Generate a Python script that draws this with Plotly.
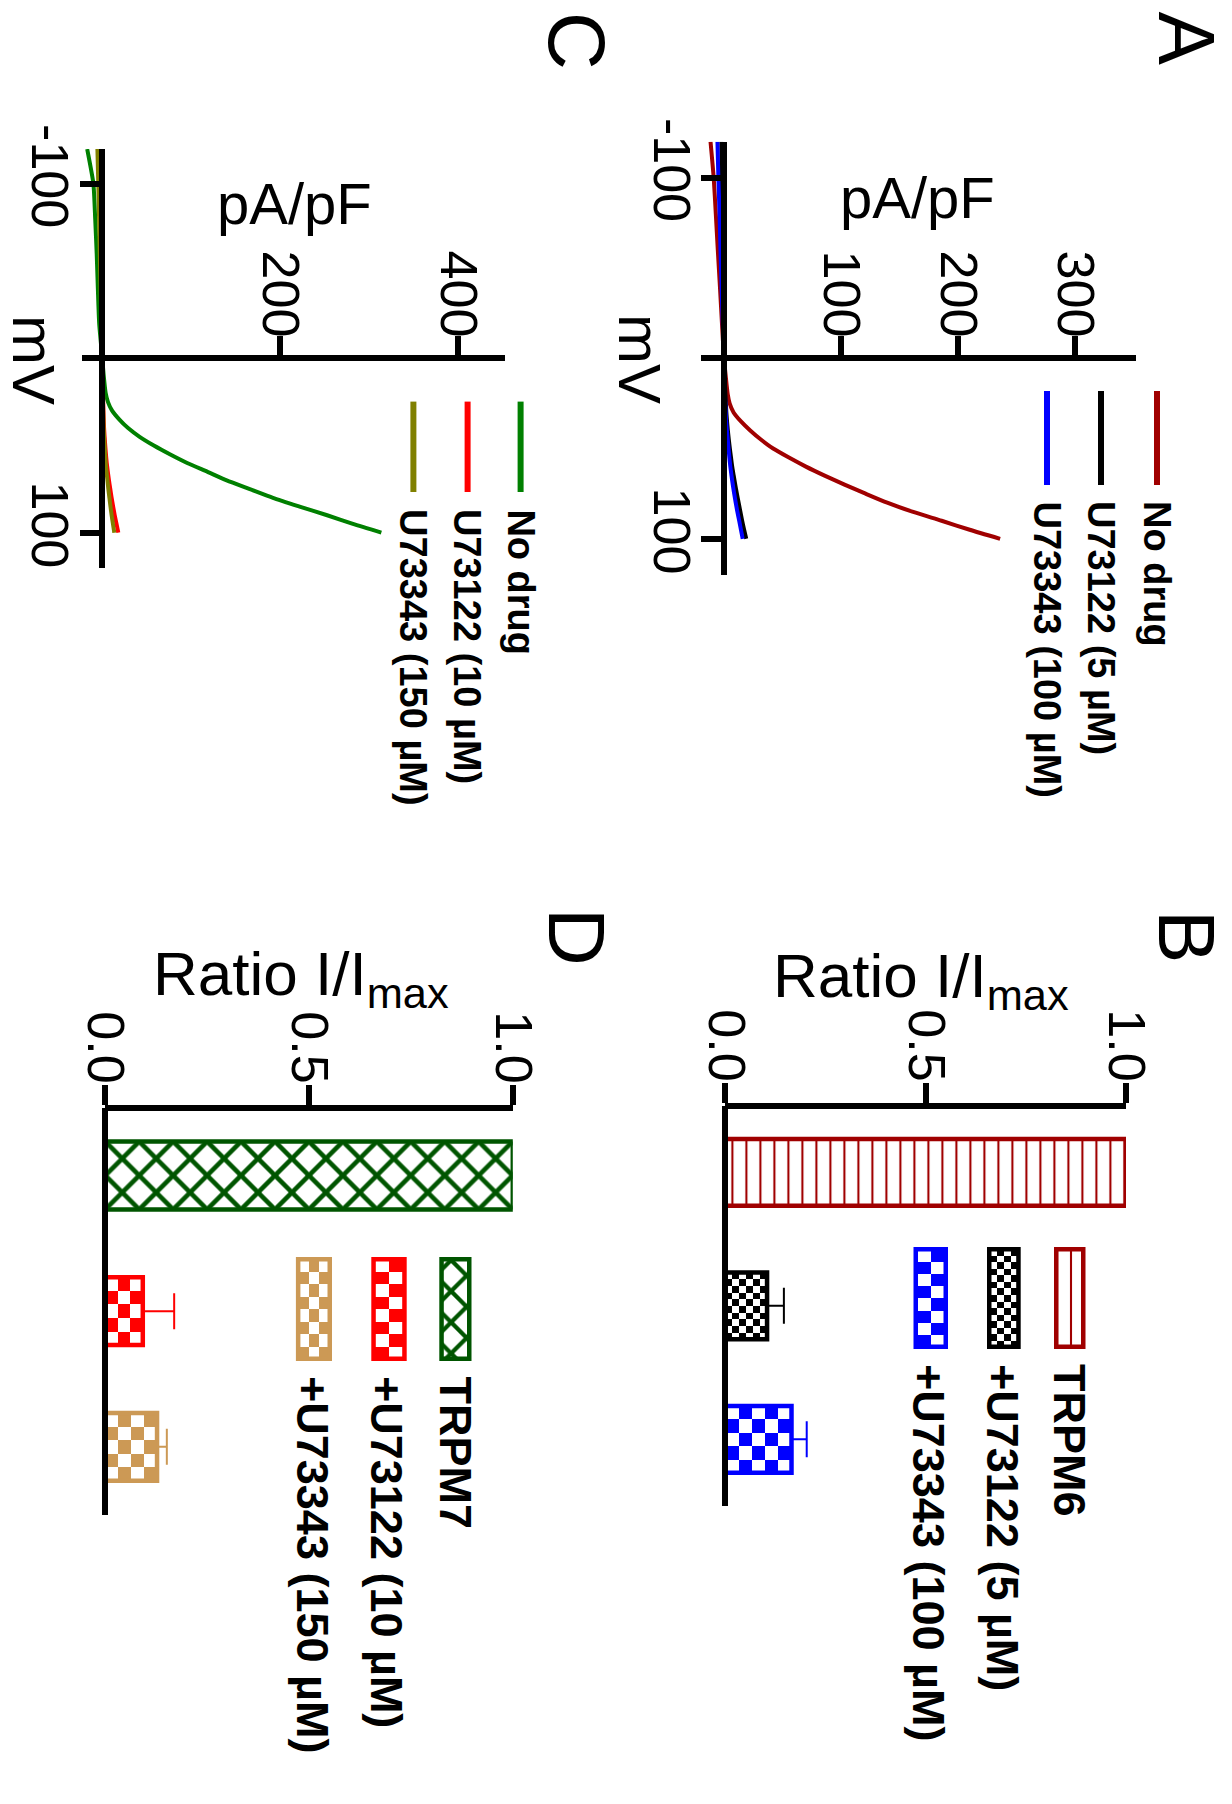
import numpy as np
import plotly.graph_objects as go

W, H = 1232, 1804
FONT = "Liberation Sans, Arial, sans-serif"

# ---------------- data ----------------
# membrane potential of the voltage ramp (mV)
mv = [-120, -100, -80, -60, -40, -20, 0, 10, 20, 25, 30, 35, 40, 45, 50,
      55, 60, 65, 70, 75, 80, 85, 90, 95, 100]

# A: TRPM6 current density (pA/pF)
trpm6_nodrug = [-11.5, -8.8, -7.0, -5.3, -3.5, -1.8, 0, 1.5, 3.2, 4.8, 8.2, 14.5,
                22.4, 31.5, 42, 55.5, 70, 86, 103, 121, 139.5, 161, 186, 210, 236]
trpm6_u73122 = [-2.3, -2.0, -1.6, -1.2, -0.8, -0.4, 0, 0.5, 1.2, 1.6, 2.0, 2.6,
                3.3, 4.1, 5.0, 6.0, 7.0, 8.3, 9.6, 11.0, 12.5, 14.0, 15.5, 17.2, 19.0]
trpm6_u73343 = [-5.6, -4.8, -3.8, -3.0, -2.1, -1.1, 0, 0.4, 0.8, 1.1, 1.4, 1.9,
                2.5, 3.2, 3.9, 4.6, 5.4, 6.4, 7.5, 8.7, 10.0, 11.4, 13.0, 14.5, 16.0]

# C: TRPM7 current density (pA/pF)
trpm7_nodrug = [-17, -10, -8, -6.3, -5, -3.5, 0, 1.6, 3.8, 6.3, 11, 19, 29, 42,
                58, 76, 95.5, 118, 140, 166, 192, 222, 253, 282, 314]
trpm7_u73122 = [-2.0, -1.7, -1.4, -1.0, -0.7, -0.3, 0, 0.3, 0.8, 1.0, 1.3, 1.6,
                2.0, 2.6, 3.3, 4.1, 5.0, 6.2, 7.5, 9.0, 10.5, 12.2, 14.0, 16.0, 18.0]
trpm7_u73343 = [-5.5, -4.5, -3.6, -2.8, -1.9, -1.0, 0, 0.3, 0.6, 0.8, 1.0, 1.3,
                1.5, 2.0, 2.6, 3.2, 3.8, 4.7, 5.8, 6.8, 8.0, 9.2, 10.5, 12.0, 13.5]

iv_names_a = ["No drug", "U73122 (5 µM)", "U73343 (100 µM)"]
iv_names_c = ["No drug", "U73122 (10 µM)", "U73343 (150 µM)"]

# B / D: normalised current I/Imax, mean and SEM
trpm6_groups = ["TRPM6", "+U73122 (5 µM)", "+U73343 (100 µM)"]
trpm6_ratio = [1.0, 0.104, 0.165]
trpm6_sem = [0.0, 0.042, 0.038]

trpm7_groups = ["TRPM7", "+U73122 (10 µM)", "+U73343 (150 µM)"]
trpm7_ratio = [1.0, 0.092, 0.127]
trpm7_sem = [0.0, 0.077, 0.024]

# tick values / labels
ticks_pa_a = [100, 200, 300]
ticks_pa_c = [200, 400]
ticks_mv = [-100, 100]
ticktext_mv = ["-100", "100"]
ticks_ratio = [0.0, 0.5, 1.0]
ticktext_ratio = ["0.0", "0.5", "1.0"]

# ---------------- styling ----------------
DARKRED = "#a00000"
BLUE = "#0000ff"
GREEN_IV = "#008000"
OLIVE = "#808000"
RED = "#ff0000"
GREEN_BAR = "#005500"
TAN = "#cc9955"

AX_LW = 5.5
TICK_FONT = dict(family=FONT, size=52, color="black")


def fx(p):
    return p / W


def fy(p):
    return 1 - p / H


fig = go.Figure()

# ---- I-V panels (rotated: potential runs downward, current to the right) ----
iv_panels = [
    dict(xa="x", ya="y", data=[(trpm6_nodrug, DARKRED), (trpm6_u73122, "black"), (trpm6_u73343, BLUE)]),
    dict(xa="x2", ya="y2", data=[(trpm7_nodrug, GREEN_IV), (trpm7_u73122, RED), (trpm7_u73343, OLIVE)]),
]
for p in iv_panels:
    for vals, col in p["data"]:
        fig.add_trace(go.Scatter(
            x=vals, y=mv, mode="lines",
            line=dict(color=col, width=4, shape="spline", smoothing=0.6),
            xaxis=p["xa"], yaxis=p["ya"], hoverinfo="skip", showlegend=False))


# ---- bar panels ----
def checker(x0, x1, y0, y1, nx, ny, color, xa, ya):
    xe = np.linspace(x0, x1, nx + 1)
    ye = np.linspace(y0, y1, ny + 1)
    z = (np.add.outer(np.arange(ny), np.arange(nx)) % 2).astype(float)
    return go.Heatmap(x=xe, y=ye, z=z, zmin=0, zmax=1,
                      colorscale=[[0, "white"], [1, color]], showscale=False,
                      hoverinfo="skip", xaxis=xa, yaxis=ya)


def pattern_marker(col, shape, size, solidity, lw):
    return dict(color=col, line=dict(color=col, width=lw),
                pattern=dict(shape=shape, size=size, solidity=solidity,
                             fgcolor=col, bgcolor="white", fillmode="replace"))


BAR_W = 0.5
bar_panels = [
    dict(xa="x3", ya="y3", ratio=trpm6_ratio, sem=trpm6_sem,
         colors=[DARKRED, "black", BLUE], fills=["vline", "fine", "coarse"],
         px_unit=400.6, px_cat=133.5),
    dict(xa="x4", ya="y4", ratio=trpm7_ratio, sem=trpm7_sem,
         colors=[GREEN_BAR, RED, TAN], fills=["cross", "coarse", "coarse"],
         px_unit=407.5, px_cat=135.7),
]
CELL = {"fine": 6.7, "coarse": 13.2}

for p in bar_panels:
    for i, (v, e, col, fill) in enumerate(zip(p["ratio"], p["sem"], p["colors"], p["fills"])):
        marker = dict(color="rgba(0,0,0,0)", line=dict(color=col, width=4.5))
        if fill == "vline":
            marker = pattern_marker(col, "|", 14, 0.15, 4.5)
        elif fill == "cross":
            marker = pattern_marker(col, "x", 24, 0.35, 4.5)
        else:
            c = CELL[fill]
            nx = max(1, int(round(v * p["px_unit"] / c)))
            ny = max(1, int(round(BAR_W * p["px_cat"] / c)))
            fig.add_trace(checker(0, v, i - BAR_W / 2, i + BAR_W / 2, nx, ny, col, p["xa"], p["ya"]))
        fig.add_trace(go.Bar(
            x=[v], y=[i], orientation="h", width=BAR_W, marker=marker,
            error_x=dict(type="data", array=[e], arrayminus=[0], symmetric=False,
                         color=col, thickness=2, width=18, visible=bool(e > 0)),
            xaxis=p["xa"], yaxis=p["ya"], hoverinfo="skip", showlegend=False))

# ---- legend swatches (drawn on a pixel-space overlay) ----
SW_LW = 4.5
swatches = [
    # (left, right, top, bottom, colour, fill)
    (1054.0, 1085.5, 1247, 1349, DARKRED, "vline"),
    (987.0, 1020.7, 1247, 1349, "black", "fine"),
    (913.5, 948.0, 1247, 1349, BLUE, "coarse"),
    (439.3, 471.5, 1257, 1361, GREEN_BAR, "cross"),
    (371.3, 406.7, 1257, 1361, RED, "coarse"),
    (295.9, 332.0, 1257, 1361, TAN, "coarse"),
]
for l, r, t, b, col, fill in swatches:
    marker = dict(color="rgba(0,0,0,0)", line=dict(color=col, width=SW_LW))
    if fill == "vline":
        marker = pattern_marker(col, "|", 14, 0.15, SW_LW)
    elif fill == "cross":
        marker = pattern_marker(col, "x", 22, 0.35, SW_LW)
    else:
        c = CELL[fill] * (0.95 if fill == "coarse" else 1.0)
        il, ir, it, ib = l + SW_LW / 2, r - SW_LW / 2, t + SW_LW / 2, b - SW_LW / 2
        nx = max(1, int(round((ir - il) / c)))
        ny = max(1, int(round((ib - it) / c)))
        fig.add_trace(checker(il, ir, it, ib, nx, ny, col, "x5", "y5"))
    fig.add_trace(go.Bar(
        x=[(l + r) / 2], y=[b - t - SW_LW], base=[t + SW_LW / 2], width=[r - l - SW_LW],
        marker=marker, xaxis="x5", yaxis="y5", hoverinfo="skip", showlegend=False))

# ---- legend line samples for the I-V panels ----
shapes = []
iv_legend = [
    (391, 485, [DARKRED, "black", BLUE], [1157.0, 1101.0, 1047.0], iv_names_a, 499),
    (401.6, 492, [GREEN_IV, RED, OLIVE], [520.6, 467.6, 413.4], iv_names_c, 507),
]
annotations = []
for t, b, cols, xs, names, ty in iv_legend:
    for col, x, name in zip(cols, xs, names):
        shapes.append(dict(type="line", xref="paper", yref="paper",
                           x0=fx(x), x1=fx(x), y0=fy(t), y1=fy(b),
                           line=dict(color=col, width=6)))
        annotations.append(dict(text="<b>" + name + "</b>", x=fx(x), y=fy(ty),
                                xref="paper", yref="paper", textangle=90,
                                xanchor="center", yanchor="top", showarrow=False,
                                font=dict(family=FONT, size=38, color="black")))

# legend labels for the bar panels
bar_legend = [
    (trpm6_groups, [1069.5, 1002.5, 928.5], 1362),
    (trpm7_groups, [455.0, 387.0, 312.5], 1374),
]
for names, xs, ty in bar_legend:
    for name, x in zip(names, xs):
        annotations.append(dict(text="<b>" + name + "</b>", x=fx(x), y=fy(ty),
                                xref="paper", yref="paper", textangle=90,
                                xanchor="center", yanchor="top", showarrow=False,
                                font=dict(family=FONT, size=45, color="black")))

# panel letters
for letter, x, y in [("A", 1186, 38.5), ("B", 1186, 936), ("C", 576.5, 40.5), ("D", 577, 937)]:
    annotations.append(dict(text=letter, x=fx(x), y=fy(y), xref="paper", yref="paper",
                            textangle=90, xanchor="center", yanchor="middle", showarrow=False,
                            borderpad=0, font=dict(family=FONT, size=80, color="black")))

# axis titles
for x, y in [(639.5, 358.5), (33.5, 359.6)]:
    annotations.append(dict(text="mV", x=fx(x), y=fy(y), xref="paper", yref="paper",
                            textangle=90, xanchor="center", yanchor="middle", showarrow=False,
                            borderpad=0, font=dict(family=FONT, size=60, color="black")))
for x, y in [(917.5, 198), (294.5, 204)]:
    annotations.append(dict(text="pA/pF", x=fx(x), y=fy(y), xref="paper", yref="paper",
                            xanchor="center", yanchor="middle", showarrow=False,
                            font=dict(family=FONT, size=58, color="black")))
for x, y in [(771, 980), (151, 978)]:
    annotations.append(dict(text="Ratio I/I<sub>max</sub>", x=fx(x), y=fy(y),
                            xref="paper", yref="paper", xanchor="left", yanchor="middle",
                            showarrow=False, font=dict(family=FONT, size=62, color="black")))


# ---------------- axes ----------------
def value_axis(x_lo, x_hi, rng, pos_y, tickvals, ticktext, standoff):
    return dict(domain=[fx(x_lo), fx(x_hi)], range=rng, anchor="free", position=fy(pos_y),
                side="top", showline=True, linecolor="black", linewidth=AX_LW,
                ticks="outside", ticklen=20, tickwidth=AX_LW, tickcolor="black",
                tickmode="array", tickvals=tickvals, ticktext=ticktext, tickangle=90,
                ticklabelstandoff=standoff,
                tickfont=TICK_FONT, showgrid=False, zeroline=False, fixedrange=True,
                automargin=False)


def mv_axis(y_top, y_bot, pos_x):
    return dict(domain=[fy(y_bot), fy(y_top)], range=[120, -120], anchor="free",
                position=fx(pos_x), side="left", showline=True, linecolor="black",
                linewidth=AX_LW, ticks="outside", ticklen=20, tickwidth=AX_LW,
                tickcolor="black", tickmode="array", tickvals=ticks_mv, ticktext=ticktext_mv,
                tickangle=90, ticklabelstandoff=-15, tickfont=TICK_FONT, showgrid=False,
                zeroline=False, fixedrange=True, automargin=False)


def cat_axis(y_top, y_bot, pos_x):
    return dict(domain=[fy(y_bot), fy(y_top)], range=[2.5, -0.5], anchor="free",
                position=fx(pos_x), side="left", showline=True, linecolor="black",
                linewidth=AX_LW, ticks="", showticklabels=False, showgrid=False,
                zeroline=False, fixedrange=True, automargin=False)


# A: 0 pA/pF at x=724 px (1.17 px per pA/pF); 0 mV at y=358.3 px (1.805 px per mV)
a_x0, a_kx, a_y0, a_ky = 724.0, 1.17, 358.3, 1.805
c_x0, c_kx, c_y0, c_ky = 102.3, 0.8887, 358.3, 1.744
a_rng, c_rng = [-20, 352], [-23, 453]

fig.update_layout(
    xaxis=value_axis(a_x0 + a_rng[0] * a_kx, a_x0 + a_rng[1] * a_kx, a_rng, a_y0,
                     ticks_pa_a, [str(t) for t in ticks_pa_a], -20),
    yaxis=mv_axis(a_y0 - 120 * a_ky, a_y0 + 120 * a_ky, a_x0),
    xaxis2=value_axis(c_x0 + c_rng[0] * c_kx, c_x0 + c_rng[1] * c_kx, c_rng, c_y0,
                      ticks_pa_c, [str(t) for t in ticks_pa_c], -20),
    yaxis2=mv_axis(c_y0 - 120 * c_ky, c_y0 + 120 * c_ky, c_x0),
    xaxis3=value_axis(725.4, 1126.0, [0, 1], 1105.6, ticks_ratio, ticktext_ratio, -17),
    yaxis3=cat_axis(1105.6, 1506.0, 725.4),
    xaxis4=value_axis(105.3, 512.8, [0, 1], 1107.6, ticks_ratio, ticktext_ratio, -17),
    yaxis4=cat_axis(1107.6, 1514.7, 105.3),
    xaxis5=dict(domain=[0, 1], range=[0, W], visible=False, fixedrange=True),
    yaxis5=dict(domain=[0, 1], range=[H, 0], visible=False, fixedrange=True),
    barmode="overlay",
    width=W, height=H,
    margin=dict(l=0, r=0, t=0, b=0, pad=0),
    paper_bgcolor="white", plot_bgcolor="rgba(0,0,0,0)",
    showlegend=False,
    font=dict(family=FONT, color="black"),
    shapes=shapes,
    annotations=annotations,
)

fig.write_html("out.html")
